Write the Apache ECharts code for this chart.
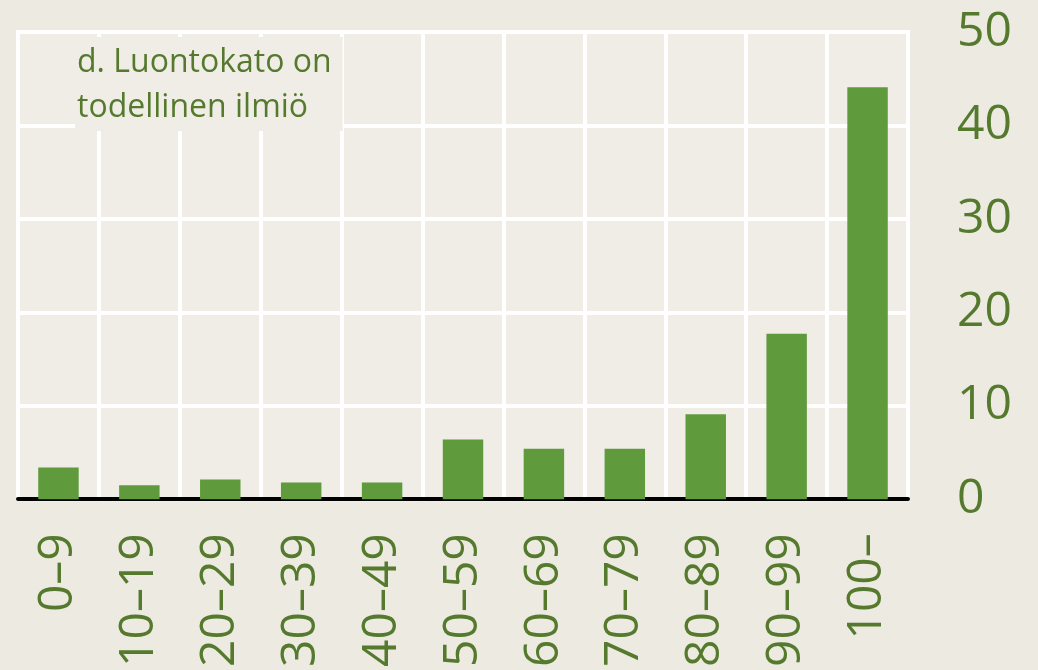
<!DOCTYPE html>
<html><head><meta charset="utf-8">
<script src="https://cdn.jsdelivr.net/npm/echarts@6/dist/echarts.min.js"></script>
<style>html,body{margin:0;padding:0;background:#EDEAE1;}#c{width:1038px;height:670px;}</style>
</head><body><div id="c"></div>
<script>
const categories = ['0–9','10–19','20–29','30–39','40–49','50–59','60–69','70–79','80–89','90–99','100–'];
const values = [3.4, 1.5, 2.1, 1.8, 1.8, 6.4, 5.4, 5.4, 9.1, 17.7, 44.1];
const yTicks = {min: 0, max: 50, interval: 10};
const titleText = 'd. Luontokato on\ntodellinen ilmiö';

const txt = '#557A2E';
const chart = echarts.init(document.getElementById('c'));
chart.setOption({
  backgroundColor: '#EDEAE1',
  animation: false,
  title: {
    text: titleText,
    left: 75, top: 37,
    padding: [3, 11, 1, 2],
    backgroundColor: '#F0EDE6',
    textStyle: {color: txt, fontFamily: 'Open Sans', fontWeight: 'normal', fontSize: 32, lineHeight: 45}
  },
  grid: {left: 18, right: 130, top: 32, bottom: 170, show: true, backgroundColor: '#F0EDE6', borderColor: '#FFFFFF', borderWidth: 4},
  xAxis: {
    type: 'category', data: categories,
    axisLine: {lineStyle: {color: '#000', width: 4}},
    axisTick: {show: false},
    splitLine: {show: true, interval: 0, lineStyle: {color: '#FFFFFF', width: 4}},
    axisLabel: {rotate: 90, interval: 0, margin: 34, color: txt, fontFamily: 'Open Sans', fontSize: 48}
  },
  yAxis: {
    type: 'value', position: 'right', min: yTicks.min, max: yTicks.max, interval: yTicks.interval,
    axisLine: {show: false}, axisTick: {show: false},
    splitLine: {lineStyle: {color: '#FFFFFF', width: 4}},
    axisLabel: {margin: 49, color: txt, fontFamily: 'Open Sans', fontSize: 48, verticalAlign: 'middle'}
  },
  series: [{type: 'bar', data: values, barWidth: '50%', itemStyle: {color: '#5F9A3D'}, z: 3}]
});
</script></body></html>
